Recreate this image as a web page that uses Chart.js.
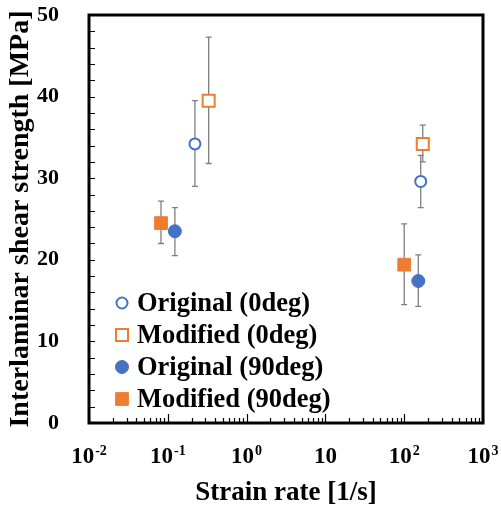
<!DOCTYPE html>
<html>
<head>
<meta charset="utf-8">
<script src="https://cdn.jsdelivr.net/npm/chart.js@4.4.1/dist/chart.umd.min.js"></script>
<style>
  html, body { margin: 0; padding: 0; background: #ffffff; }
  #wrap { width: 501px; height: 509px; }
</style>
</head>
<body>
<div id="wrap"><canvas id="c" width="501" height="509"></canvas></div>
<script>
// ---- data ----
const seriesLabels = ['Original (0deg)', 'Modified (0deg)', 'Original (90deg)', 'Modified (90deg)'];

const strainOriginal0 = [0.221, 162];
const strengthOriginal0 = [34.2, 29.6];
const upperOriginal0 = [39.5, 32.8];
const lowerOriginal0 = [29.0, 26.4];

const strainModified0 = [0.330, 172];
const strengthModified0 = [39.5, 34.2];
const upperModified0 = [47.3, 36.5];
const lowerModified0 = [31.8, 32.0];

const strainOriginal90 = [0.123, 151];
const strengthOriginal90 = [23.5, 17.4];
const upperOriginal90 = [26.4, 20.6];
const lowerOriginal90 = [20.5, 14.3];

const strainModified90 = [0.082, 100];
const strengthModified90 = [24.5, 19.4];
const upperModified90 = [27.2, 24.4];
const lowerModified90 = [22.0, 14.5];

const xTickValues = [0.01, 0.1, 1, 10, 100, 1000];
const xTickBases = ['10', '10', '10', '10', '10', '10'];
const xTickExponents = ['-2', '-1', '0', '', '2', '3'];
const yMin = 0, yMax = 50, yStep = 10, yMinorStep = 2;

// ---- build ----
const BLUE = '#4472C4';
const ORANGE = '#ED7D31';
const SERIF = '"Liberation Serif", "Times New Roman", serif';

function pts(xs, ys, hi, lo) {
  return xs.map((x, i) => ({ x: x, y: ys[i], hi: hi[i], lo: lo[i] }));
}

const datasets = [
  { label: seriesLabels[0], data: pts(strainOriginal0, strengthOriginal0, upperOriginal0, lowerOriginal0),
    pointStyle: 'circle', pointRadius: 5.5, borderColor: BLUE, backgroundColor: '#ffffff', borderWidth: 2 },
  { label: seriesLabels[1], data: pts(strainModified0, strengthModified0, upperModified0, lowerModified0),
    pointStyle: 'rect', pointRadius: 8.5, borderColor: ORANGE, backgroundColor: '#ffffff', borderWidth: 2 },
  { label: seriesLabels[2], data: pts(strainOriginal90, strengthOriginal90, upperOriginal90, lowerOriginal90),
    pointStyle: 'circle', pointRadius: 6.5, borderColor: BLUE, backgroundColor: BLUE, borderWidth: 1 },
  { label: seriesLabels[3], data: pts(strainModified90, strengthModified90, upperModified90, lowerModified90),
    pointStyle: 'rect', pointRadius: 9, borderColor: ORANGE, backgroundColor: ORANGE, borderWidth: 1 }
];

const errorBars = {
  id: 'errorBars',
  beforeDatasetsDraw(chart) {
    const ctx = chart.ctx, xs = chart.scales.x, ys = chart.scales.y;
    ctx.save();
    ctx.strokeStyle = '#7f7f7f';
    ctx.lineWidth = 1.3;
    chart.data.datasets.forEach(ds => {
      ds.data.forEach(p => {
        const px = xs.getPixelForValue(p.x);
        const ph = ys.getPixelForValue(p.hi);
        const pl = ys.getPixelForValue(p.lo);
        ctx.beginPath();
        ctx.moveTo(px, ph); ctx.lineTo(px, pl);
        ctx.moveTo(px - 3, ph); ctx.lineTo(px + 3, ph);
        ctx.moveTo(px - 3, pl); ctx.lineTo(px + 3, pl);
        ctx.stroke();
      });
    });
    ctx.restore();
  }
};

const frameAndTicks = {
  id: 'frameAndTicks',
  afterDatasetsDraw(chart) {
    const ctx = chart.ctx, a = chart.chartArea, xs = chart.scales.x, ys = chart.scales.y;
    ctx.save();
    ctx.strokeStyle = '#000000';
    ctx.lineWidth = 1.2;
    ctx.beginPath();
    for (let v = yMin; v <= yMax; v += yMinorStep) {
      const py = Math.round(ys.getPixelForValue(v)) + 0.5;
      ctx.moveTo(a.left, py); ctx.lineTo(a.left + 6, py);
    }
    for (let d = 0; d < xTickValues.length; d++) {
      const dec = xTickValues[d];
      for (let m = 1; m <= 9; m++) {
        const v = dec * m;
        if (v > xTickValues[xTickValues.length - 1] + 1e-9) break;
        const px = Math.round(xs.getPixelForValue(v)) + 0.5;
        const len = (m === 1) ? 9 : 5;
        ctx.moveTo(px, a.bottom); ctx.lineTo(px, a.bottom - len);
      }
    }
    ctx.stroke();
    ctx.lineWidth = 3;
    ctx.strokeRect(a.left, a.top, a.right - a.left, a.bottom - a.top);

    // x tick labels: base with raised exponent
    ctx.fillStyle = '#000000';
    ctx.textBaseline = 'alphabetic';
    ctx.textAlign = 'left';
    const baseFont = 'bold 23px ' + SERIF, expFont = 'bold 14px ' + SERIF;
    const baseline = a.bottom + 40;
    xTickValues.forEach((v, i) => {
      const px = xs.getPixelForValue(v);
      ctx.font = baseFont;
      const wb = ctx.measureText(xTickBases[i]).width;
      ctx.font = expFont;
      const we = xTickExponents[i] ? ctx.measureText(xTickExponents[i]).width + 1 : 0;
      const left = px - (wb + we) / 2;
      ctx.font = baseFont;
      ctx.fillText(xTickBases[i], left, baseline);
      if (xTickExponents[i]) {
        ctx.font = expFont;
        ctx.fillText(xTickExponents[i], left + wb + 1, baseline - 8);
      }
    });
    ctx.restore();
  }
};

const insideLegend = {
  id: 'insideLegend',
  afterDraw(chart) {
    const ctx = chart.ctx, a = chart.chartArea;
    ctx.save();
    ctx.font = 'bold 26.5px ' + SERIF;
    ctx.textBaseline = 'middle';
    ctx.textAlign = 'left';
    ctx.fillStyle = '#000000';
    const x0 = a.left + 33, textX = a.left + 48;
    const yStart = a.top + 288, gap = 32;
    chart.data.datasets.forEach((ds, i) => {
      const y = yStart + i * gap;
      ctx.save();
      ctx.strokeStyle = ds.borderColor;
      ctx.fillStyle = ds.backgroundColor;
      ctx.lineWidth = ds.borderWidth;
      Chart.helpers.drawPoint(ctx, { pointStyle: ds.pointStyle, radius: ds.pointRadius, borderWidth: ds.borderWidth, rotation: 0 }, x0, y);
      ctx.restore();
      ctx.fillText(ds.label, textX, y + 1);
    });
    ctx.restore();
  }
};

function zeroPad(scale) {
  scale.paddingTop = 0; scale.paddingBottom = 0;
  scale.paddingLeft = 0; scale.paddingRight = 0;
}

new Chart(document.getElementById('c'), {
  type: 'scatter',
  data: { datasets: datasets },
  plugins: [errorBars, frameAndTicks, insideLegend],
  options: {
    responsive: false,
    animation: false,
    layout: { padding: { top: 15, right: 18, left: 0, bottom: 0 } },
    plugins: { legend: { display: false }, tooltip: { enabled: false } },
    scales: {
      x: {
        type: 'logarithmic',
        min: xTickValues[0],
        max: xTickValues[xTickValues.length - 1],
        grid: { display: false },
        border: { display: false },
        afterBuildTicks(scale) { scale.ticks = xTickValues.map(v => ({ value: v })); },
        afterFit(scale) { scale.height = 86; zeroPad(scale); },
        ticks: { display: false },
        title: {
          display: true, text: 'Strain rate [1/s]', color: '#000000',
          font: { family: SERIF, size: 27, weight: 'bold' },
          padding: { top: 0, bottom: 0 }
        }
      },
      y: {
        min: yMin, max: yMax,
        grid: { display: false },
        border: { display: false },
        afterFit(scale) { scale.width = 89; zeroPad(scale); },
        ticks: {
          stepSize: yStep, padding: 22, color: '#000000',
          font: { family: SERIF, size: 22, weight: 'bold' }
        },
        title: {
          display: true, text: 'Interlaminar shear strength [MPa]', color: '#000000',
          font: { family: SERIF, size: 28, weight: 'bold' },
          padding: { top: 4, bottom: 0 }
        }
      }
    }
  }
});
</script>
</body>
</html>
